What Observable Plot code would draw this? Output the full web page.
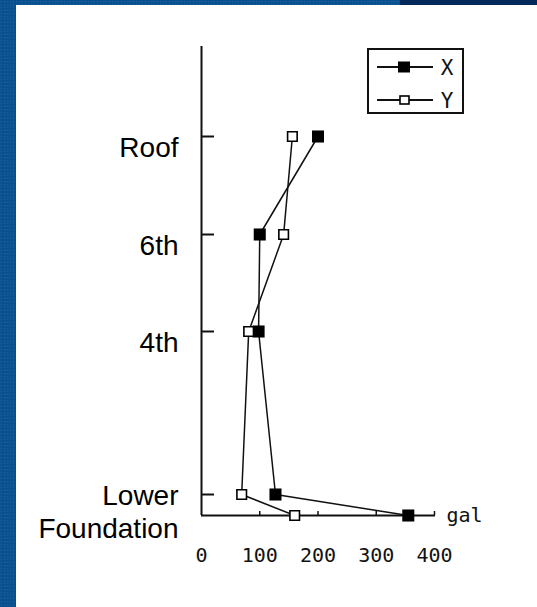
<!DOCTYPE html>
<html>
<head>
<meta charset="utf-8">
<script src="https://cdn.jsdelivr.net/npm/d3@7"></script>
<script src="https://cdn.jsdelivr.net/npm/@observablehq/plot@0.6"></script>
<style>
  html, body { margin: 0; padding: 0; }
  body { width: 537px; height: 607px; overflow: hidden; position: relative;
         background: #0b5291;
         background-image: radial-gradient(rgba(60,130,190,0.35) 0.6px, transparent 0.8px),
                           radial-gradient(rgba(0,40,90,0.35) 0.6px, transparent 0.8px);
         background-size: 3px 3px, 4px 4px; background-position: 0 0, 1px 2px; }
  #strip { position: absolute; left: 400px; top: 0; width: 137px; height: 5px; background: #03295a; }
  #chart { position: absolute; left: 16px; top: 5px; width: 521px; height: 602px; background: white; }
  #chart svg { display: block; }
</style>
</head>
<body>
<div id="strip"></div>
<div id="chart"></div>
<script>
// Floors (bottom to top) and their heights (arbitrary units)
const floors = ["Foundation", "Lower", "4th", "6th", "Roof"];
const levels = [0, 1.05, 9.2, 14.05, 18.95];
const axisTop = 23.45;

// Peak accelerations (gal)
const seriesX = [355, 127, 98, 100, 200];
const seriesY = [160, 69, 81, 141, 156];

// Axis tick values and labels
const xTicks = [0, 100, 200, 300, 400];
const xTickMarks = [100, 200, 300, 400];
const yTickLevels = [18.95, 14.05, 9.2, 1.05];
const yLabels = ["Roof", "6th", "4th"];
const yLabelLevels = [18.95, 14.05, 9.2];
const baseLabel = ["Lower\nFoundation"];
const xUnit = "gal";
const legendNames = ["X", "Y"];

const dataX = floors.map((f, i) => ({floor: f, level: levels[i], value: seriesX[i]}));
const dataY = floors.map((f, i) => ({floor: f, level: levels[i], value: seriesY[i]}));

const mono = "'DejaVu Sans Mono', monospace";
const sans = "'Liberation Sans', Arial, sans-serif";

const plot = Plot.plot({
  width: 521,
  height: 602,
  marginLeft: 185,
  marginRight: 103,
  marginTop: 41,
  marginBottom: 92,
  x: {domain: [0, 400], axis: null},
  y: {domain: [0, axisTop], axis: null},
  style: {background: "white", color: "black"},
  marks: [
    // axes
    Plot.ruleX([0], {y1: 0, y2: axisTop, stroke: "#111", strokeWidth: 2}),
    Plot.ruleY([0], {x1: 0, x2: 400, insetRight: -1, stroke: "#111", strokeWidth: 2}),
    Plot.ruleY(yTickLevels, {x1: 0, x2: 0, insetRight: -13, stroke: "#111", strokeWidth: 2}),
    Plot.ruleX(xTickMarks, {y1: 0, y2: 0, insetTop: -4, stroke: "#111", strokeWidth: 1.5}),
    // x tick labels
    Plot.text(xTicks, {x: d => d, y: 0, dy: 40, text: d => String(d), fontFamily: mono, fontSize: 20, fill: "#111"}),
    Plot.text([xUnit], {x: 400, y: 0, dx: 12, dy: 0, text: d => d, textAnchor: "start", fontFamily: mono, fontSize: 20, fill: "#111"}),
    // y labels
    Plot.text(yLabels, {x: 0, y: (d, i) => yLabelLevels[i], dx: -23, dy: 12, text: d => d, textAnchor: "end", fontFamily: sans, fontSize: 28, fill: "black"}),
    Plot.text(baseLabel, {x: 0, y: 0, dx: -23, dy: -5, text: d => d, textAnchor: "end", lineHeight: 1.18, fontFamily: sans, fontSize: 28, fill: "black"}),
    // series lines
    Plot.line(dataX, {x: "value", y: "level", stroke: "#111", strokeWidth: 1.5}),
    Plot.line(dataY, {x: "value", y: "level", stroke: "#111", strokeWidth: 1.5}),
    // markers
    Plot.dot(dataX, {x: "value", y: "level", symbol: "square", r: 6.8, fill: "black", stroke: "none"}),
    Plot.dot(dataY, {x: "value", y: "level", symbol: "square", r: 5.4, fill: "white", stroke: "black", strokeWidth: 1.6})
  ]
});

document.getElementById("chart").appendChild(plot);

// Legend box (top-right)
const svg = d3.select(plot);
const lg = svg.append("g").attr("class", "legend");
lg.append("rect").attr("x", 352).attr("y", 44).attr("width", 95).attr("height", 64)
  .attr("fill", "white").attr("stroke", "#111").attr("stroke-width", 2);
legendNames.forEach((name, i) => {
  const cy = 62 + i * 33;
  lg.append("line").attr("x1", 361).attr("x2", 417).attr("y1", cy).attr("y2", cy)
    .attr("stroke", "#111").attr("stroke-width", 2);
  if (i === 0) {
    lg.append("rect").attr("x", 382).attr("y", cy - 5.5).attr("width", 12).attr("height", 11).attr("fill", "black");
  } else {
    lg.append("rect").attr("x", 384).attr("y", cy - 4).attr("width", 9).attr("height", 8)
      .attr("fill", "white").attr("stroke", "black").attr("stroke-width", 1.6);
  }
  lg.append("text").attr("x", 431).attr("y", cy).attr("dy", "0.36em").attr("text-anchor", "middle")
    .attr("font-family", mono).attr("font-size", 21).attr("fill", "#111").text(name);
});
</script>
</body>
</html>
